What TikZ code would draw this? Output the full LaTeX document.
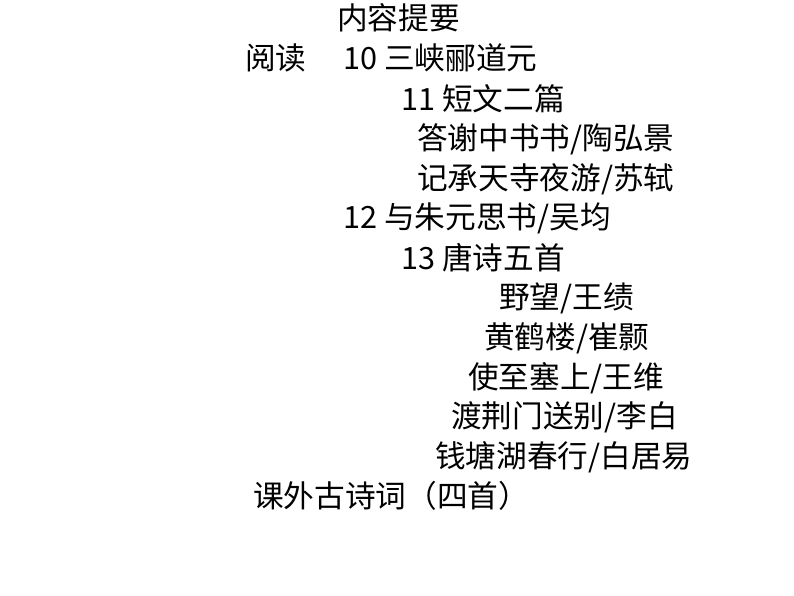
\documentclass[tikz,border=0pt]{standalone}
\usepackage{fontspec}
\setmainfont{Noto Sans CJK SC}
\begin{document}
\begin{tikzpicture}[x=0.75pt,y=-0.75pt,t/.style={anchor=west,inner sep=0pt,font=\fontsize{23}{26}\selectfont}]
\useasboundingbox (0,0) rectangle (794,596);
\node[t] (a) at (337,18) {内容提要};
\node[t] (b) at (245,58) {阅读};
\node[t] (c) at (343,58) {10 三峡郦道元};
\node[t] (d) at (401,99) {11 短文二篇};
\node[t] (e) at (417,139) {答谢中书书/陶弘景};
\node[t] (f) at (417,179) {记承天寺夜游/苏轼};
\node[t] (g) at (343,218) {12 与朱元思书/吴均};
\node[t] (h) at (401,258) {13 唐诗五首};
\node[t] (i) at (499,298) {野望/王绩};
\node[t] (j) at (484,338) {黄鹤楼/崔颢};
\node[t] (k) at (468,378) {使至塞上/王维};
\node[t] (l) at (451,417) {渡荆门送别/李白};
\node[t] (m) at (435,457) {钱塘湖春行/白居易};
\node[t] (n) at (253,496) {课外古诗词（四首）};
\end{tikzpicture}
\end{document}
